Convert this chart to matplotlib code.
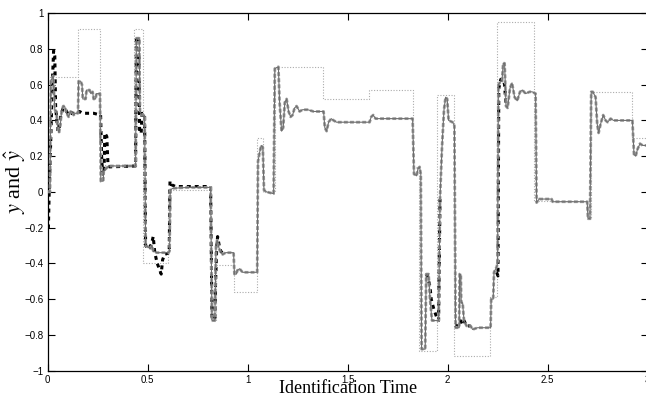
import numpy as np
import matplotlib
matplotlib.use("Agg")
import matplotlib.pyplot as plt

plt.rcParams["mathtext.fontset"] = "stix"

# reference signal r (piecewise constant, dotted)
r_t = [0.000, 0.012, 0.150, 0.262, 0.434, 0.479, 0.603, 0.818, 0.840, 0.930,
       1.048, 1.078, 1.138, 1.379, 1.607, 1.827, 1.857, 1.945, 2.030, 2.210,
       2.249, 2.430, 2.695, 2.715, 2.920, 3.000]
r_v = [0.00, 0.645, 0.91, 0.15, 0.91, -0.40, 0.01, -0.72, -0.41, -0.56,
       0.30, 0.00, 0.70, 0.52, 0.57, 0.14, -0.89, 0.54, -0.92, -0.59,
       0.95, -0.05, -0.15, 0.56, 0.30, 0.30]

# measured output y (gray)
y_t = [0.000, 0.012, 0.016, 0.028, 0.036, 0.044, 0.050, 0.057, 0.064, 0.070,
       0.078, 0.085, 0.095, 0.105, 0.115, 0.124, 0.130, 0.138, 0.152, 0.155,
       0.165, 0.172, 0.176, 0.190, 0.195, 0.210, 0.216, 0.225, 0.230, 0.240,
       0.244, 0.262, 0.266, 0.270, 0.278, 0.281, 0.292, 0.305, 0.440, 0.444,
       0.458, 0.462, 0.470, 0.485, 0.490, 0.505, 0.512, 0.522, 0.528, 0.545,
       0.605, 0.610, 0.613, 0.625, 0.700, 0.815, 0.822, 0.836, 0.842, 0.848,
       0.856, 0.862, 0.875, 0.890, 0.930, 0.934, 0.944, 0.948, 0.960, 0.975,
       1.048, 1.052, 1.060, 1.068, 1.076, 1.082, 1.095, 1.130, 1.136, 1.154,
       1.160, 1.170, 1.178, 1.186, 1.195, 1.205, 1.215, 1.225, 1.235, 1.245,
       1.260, 1.275, 1.300, 1.330, 1.380, 1.386, 1.395, 1.405, 1.418, 1.430,
       1.445, 1.500, 1.610, 1.618, 1.628, 1.640, 1.660, 1.825, 1.832, 1.845,
       1.852, 1.860, 1.866, 1.870, 1.888, 1.893, 1.905, 1.912, 1.922, 1.955,
       1.962, 1.972, 1.982, 1.990, 1.998, 2.005, 2.025, 2.034, 2.040, 2.058,
       2.060, 2.066, 2.068, 2.075, 2.082, 2.095, 2.115, 2.125, 2.150, 2.215,
       2.218, 2.228, 2.232, 2.245, 2.250, 2.254, 2.266, 2.272, 2.278, 2.285,
       2.292, 2.300, 2.312, 2.322, 2.335, 2.348, 2.362, 2.374, 2.390, 2.410,
       2.423, 2.440, 2.445, 2.458, 2.520, 2.525, 2.698, 2.702, 2.712, 2.718,
       2.726, 2.740, 2.748, 2.755, 2.765, 2.778, 2.790, 2.800, 2.815, 2.830,
       2.924, 2.932, 2.940, 2.950, 2.962, 2.975, 3.000]
y_v = [0.00, 0.00, 0.62, 0.65, 0.46, 0.45, 0.36, 0.33, 0.38, 0.45,
       0.48, 0.48, 0.44, 0.42, 0.45, 0.45, 0.43, 0.44, 0.44, 0.62,
       0.62, 0.60, 0.52, 0.52, 0.57, 0.57, 0.55, 0.56, 0.52, 0.52,
       0.55, 0.55, 0.06, 0.06, 0.06, 0.12, 0.13, 0.145, 0.145, 0.86,
       0.86, 0.45, 0.43, 0.43, -0.30, -0.31, -0.32, -0.30, -0.33, -0.34,
       -0.34, -0.33, 0.01, 0.02, 0.025, 0.025, -0.72, -0.72, -0.30, -0.27,
       -0.31, -0.33, -0.35, -0.34, -0.34, -0.46, -0.46, -0.44, -0.43, -0.45,
       -0.45, 0.17, 0.22, 0.26, 0.25, 0.01, 0.00, -0.01, 0.69, 0.70,
       0.50, 0.34, 0.36, 0.50, 0.52, 0.45, 0.42, 0.43, 0.47, 0.48,
       0.45, 0.46, 0.46, 0.45, 0.45, 0.36, 0.34, 0.39, 0.41, 0.40,
       0.39, 0.39, 0.39, 0.42, 0.43, 0.41, 0.41, 0.41, 0.10, 0.09,
       0.13, 0.14, 0.10, -0.88, -0.88, -0.46, -0.46, -0.60, -0.72, -0.72,
       -0.04, 0.25, 0.46, 0.53, 0.52, 0.40, 0.39, 0.37, -0.76, -0.76,
       -0.46, -0.46, -0.62, -0.62, -0.72, -0.75, -0.75, -0.77, -0.76, -0.76,
       -0.60, -0.60, -0.45, -0.42, -0.40, 0.60, 0.62, 0.62, 0.72, 0.72,
       0.48, 0.47, 0.58, 0.61, 0.53, 0.51, 0.56, 0.57, 0.55, 0.56,
       0.56, 0.55, -0.06, -0.04, -0.04, -0.055, -0.055, -0.15, -0.15, 0.56,
       0.56, 0.53, 0.38, 0.33, 0.38, 0.43, 0.40, 0.39, 0.41, 0.40,
       0.40, 0.21, 0.20, 0.24, 0.27, 0.26, 0.26]

# model estimate y_hat (black dashed) where it departs from y
yh1_t = [0.000, 0.004, 0.008, 0.016, 0.024, 0.030, 0.036, 0.040, 0.046, 0.052,
         0.058, 0.066, 0.078, 0.090, 0.105, 0.120, 0.150, 0.160, 0.175, 0.230,
         0.265, 0.270, 0.275, 0.282, 0.286, 0.296, 0.302, 0.310, 0.440, 0.444,
         0.456, 0.460, 0.468, 0.472, 0.485, 0.490, 0.505, 0.520, 0.528, 0.536,
         0.548, 0.555, 0.568, 0.575, 0.585, 0.608, 0.612, 0.620, 0.640, 0.815,
         0.822, 0.836, 0.840, 0.846, 0.850, 0.858, 0.865, 0.880]
yh1_v = [-0.20, -0.20, 0.00, 0.30, 0.62, 0.79, 0.76, 0.48, 0.40, 0.34,
         0.35, 0.43, 0.47, 0.46, 0.43, 0.44, 0.44, 0.45, 0.44, 0.44,
         0.43, 0.20, 0.10, 0.10, 0.33, 0.31, 0.15, 0.14, 0.145, 0.86,
         0.86, 0.33, 0.33, 0.44, 0.43, -0.30, -0.32, -0.29, -0.25, -0.34,
         -0.40, -0.42, -0.46, -0.38, -0.35, -0.34, 0.06, 0.04, 0.03, 0.03,
         -0.71, -0.71, -0.50, -0.30, -0.25, -0.30, -0.33, -0.35]
yh2_t = [1.893, 1.899, 1.912, 1.918, 1.932, 1.945, 1.955, 1.962]
yh2_v = [-0.46, -0.47, -0.53, -0.60, -0.66, -0.70, -0.72, -0.04]
yh3_t = [2.040, 2.058, 2.064, 2.072, 2.082, 2.095, 2.115]
yh3_v = [-0.76, -0.73, -0.72, -0.74, -0.72, -0.75, -0.75]
yh4_t = [2.245, 2.252, 2.256, 2.266, 2.278, 2.285, 2.292]
yh4_v = [-0.45, -0.47, 0.58, 0.63, 0.63, 0.60, 0.48]

y_ticks = [-1, -0.8, -0.6, -0.4, -0.2, 0, 0.2, 0.4, 0.6, 0.8, 1]
y_labels = ["\u22121", "\u22120.8", "\u22120.6", "\u22120.4", "\u22120.2", "0",
            "0.2", "0.4", "0.6", "0.8", "1"]
x_ticks = [0, 0.5, 1, 1.5, 2, 2.5, 3]
x_labels = ["0", "0.5", "1", "1.5", "2", "2.5", "3"]

fig = plt.figure(figsize=(6.46, 3.98), dpi=100)
ax = fig.add_axes([47.6 / 646, 27.4 / 398, 600 / 646, 357.4 / 398])

ax.plot(r_t, r_v, drawstyle="steps-post", color="#ababab", lw=0.8,
        linestyle=(0, (1, 1.5)), zorder=1)
for t, v in [(yh1_t, yh1_v), (yh2_t, yh2_v), (yh3_t, yh3_v), (yh4_t, yh4_v)]:
    ax.plot(t, v, color="black", lw=2.2, linestyle=(0, (1.3, 1.3)), zorder=2)
ax.plot(y_t, y_v, color="#999999", lw=2.0, linestyle=(0, (1.4, 0.8)), zorder=3)
ax.plot(y_t, y_v, color="#6e6e6e", lw=0.8, zorder=4)

ax.set_xlim(0, 3)
ax.set_ylim(-1, 1)
ax.set_xticks(x_ticks)
ax.set_xticklabels(x_labels)
ax.set_yticks(y_ticks)
ax.set_yticklabels(y_labels)
ax.tick_params(direction="in", length=5, width=0.8, top=True, right=True,
               labelsize=7, pad=3)
for lab in ax.get_xticklabels() + ax.get_yticklabels():
    lab.set_family("Liberation Sans")
for s in ax.spines.values():
    s.set_linewidth(0.9)

# the label sits right under the ticks, overlapping them a little
ax.set_xlabel("Identification Time", family="Liberation Serif", fontsize=13)
ax.xaxis.set_label_coords(0.5, -0.027)
ax.set_ylabel(r"$y$ and $\hat{y}$", family="Liberation Serif", fontsize=16)
ax.yaxis.set_label_coords(-0.032, 0.53)

fig.savefig("out.png", dpi=100)
